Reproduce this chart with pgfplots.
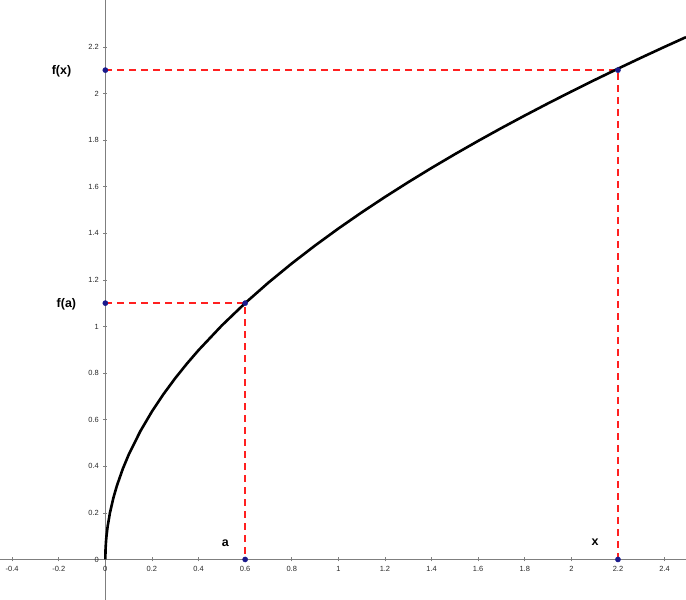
\documentclass[border=0pt]{standalone}
\usepackage{fontspec}
\setmainfont{Liberation Sans}
\usepackage{pgfplots}
\pgfplotsset{compat=1.18}
\definecolor{axgray}{HTML}{7F7F7F}
\definecolor{ptblue}{HTML}{1A1A8C}
\definecolor{dashred}{HTML}{FF2020}
\begin{document}
\begin{tikzpicture}
\begin{axis}[name=ax,
  scale only axis, width=686bp, height=600bp,
  xmin=-0.452, xmax=2.492, ymin=-0.174, ymax=2.401,
  axis lines=middle, axis line style={-, axgray, line width=1.4bp},
  hide obscured x ticks=false, hide obscured y ticks=false,
  xtick={-0.4,-0.2,0,0.2,0.4,0.6,0.8,1,1.2,1.4,1.6,1.8,2,2.2,2.4},
  ytick={0,0.2,0.4,0.6,0.8,1,1.2,1.4,1.6,1.8,2,2.2},
  major tick length=4bp, tick style={axgray, line width=0.6bp},
  tick label style={font=\fontsize{7.5}{8}\selectfont, text=black!85},
  /pgf/number format/assume math mode=true,
  x tick label style={anchor=north, yshift=-1bp},
  y tick label style={anchor=east, xshift=-1bp},
  unbounded coords=jump,
  clip=false,
]
\addplot[draw=dashred, color=dashred, line width=1.3bp, dash pattern=on 7bp off 5bp] coordinates {(0,2.1) (2.2,2.1) (2.2,0) (nan,nan) (0,1.1) (0.6,1.1) (0.6,0)};
\addplot[black, line width=2.6bp] coordinates {
(0,0) (0.001,0.0449) (0.003,0.0778) (0.005,0.1004) (0.01,0.142) (0.02,0.2008) (0.035,0.2657) (0.05,0.3175) (0.075,0.3889) (0.1,0.449) (0.15,0.55) (0.2,0.635) (0.25,0.71) (0.3,0.7778) (0.35,0.8401) (0.4,0.8981) (0.5,1.0041) (0.6,1.1) (0.7,1.1881) (0.8,1.2701) (0.9,1.3471) (1.0,1.42) (1.1,1.4893) (1.2,1.5555) (1.3,1.619) (1.4,1.6802) (1.5,1.7391) (1.6,1.7962) (1.7,1.8515) (1.8,1.9051) (1.9,1.9573) (2.0,2.0082) (2.1,2.0578) (2.2,2.1062) (2.3,2.1536) (2.4,2.1999) (2.492,2.2416)};
\addplot[only marks, mark=*, mark size=2.6bp, mark options={fill=ptblue, draw=ptblue}] coordinates {(0,2.1) (0,1.1) (0.6,1.1) (2.2,2.1) (0.6,0) (2.2,0)};
\node[font=\bfseries\fontsize{12.5}{13}\selectfont] at (axis cs:-0.188,2.095) {f(x)};
\node[font=\bfseries\fontsize{12.5}{13}\selectfont] at (axis cs:-0.167,1.094) {f(a)};
\node[font=\bfseries\fontsize{12.5}{13}\selectfont] at (axis cs:0.515,0.068) {a};
\node[font=\bfseries\fontsize{12.5}{13}\selectfont] at (axis cs:2.102,0.075) {x};
\end{axis}
\pgfresetboundingbox
\path[use as bounding box] (ax.south west) rectangle (ax.north east);
\end{tikzpicture}
\end{document}
